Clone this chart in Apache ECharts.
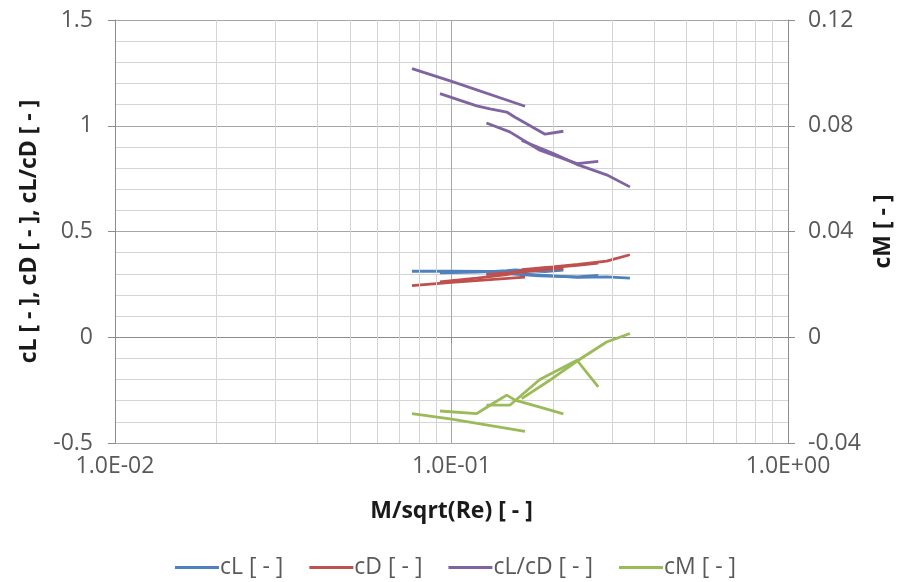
<!DOCTYPE html>
<html>
<head>
<meta charset="utf-8">
<script src="https://cdn.jsdelivr.net/npm/echarts@6/dist/echarts.min.js"></script>
<style>
html,body{margin:0;padding:0;background:#fff;}
#c{width:911px;height:582px;}
</style>
</head>
<body>
<div id="c"></div>
<script>
// Series names
const seriesNames = ['cL [ - ]', 'cD [ - ]', 'cL/cD [ - ]', 'cM [ - ]'];
const seriesColors = ['#4F81BD', '#C0504D', '#8064A2', '#9BBB59'];

// Run 1
const run1X    = [0.0763, 0.1001, 0.1654];
const run1CL   = [0.312, 0.313, 0.310];
const run1CD   = [0.244, 0.259, 0.284];
const run1CLCD = [1.270, 1.210, 1.092];
const run1CM   = [-0.0289, -0.0310, -0.0356];

// Run 2
const run2X    = [0.0924, 0.1188, 0.1301, 0.1459, 0.1545, 0.1897, 0.215];
const run2CL   = [0.305, 0.308, 0.310, 0.315, 0.318, 0.310, 0.317];
const run2CD   = [0.262, 0.280, 0.287, 0.296, 0.305, 0.320, 0.325];
const run2CLCD = [1.152, 1.094, 1.080, 1.065, 1.040, 0.960, 0.974];
const run2CM   = [-0.0279, -0.0289, -0.0257, -0.0219, -0.0238, -0.0270, -0.0290];

// Run 3
const run3X    = [0.127, 0.149, 0.183, 0.236, 0.273];
const run3CL   = [0.300, 0.300, 0.290, 0.285, 0.292];
const run3CD   = [0.296, 0.305, 0.325, 0.340, 0.350];
const run3CLCD = [1.013, 0.971, 0.884, 0.821, 0.832];
const run3CM   = [-0.0257, -0.0257, -0.0160, -0.0087, -0.0188];

// Run 4
const run4X    = [0.1617, 0.200, 0.238, 0.289, 0.339];
const run4CL   = [0.300, 0.290, 0.283, 0.285, 0.280];
const run4CD   = [0.320, 0.333, 0.345, 0.360, 0.390];
const run4CLCD = [0.930, 0.870, 0.815, 0.768, 0.711];
const run4CM   = [-0.0232, -0.0155, -0.0087, -0.0018, 0.0014];

// Axis tick labels
const leftTicks  = ['-0.5', '0', '0.5', '1', '1.5'];
const rightTicks = ['-0.04', '0', '0.04', '0.08', '0.12'];
const xTickValues = [0.01, 0.1, 1];
const xTickLabels = ['1.0E-02', '1.0E-01', '1.0E+00'];
const xMinorGrid = [0.02,0.03,0.04,0.05,0.06,0.07,0.08,0.09,0.2,0.3,0.4,0.5,0.6,0.7,0.8,0.9];

const runs = [
  {x: run1X, v: [run1CL, run1CD, run1CLCD, run1CM]},
  {x: run2X, v: [run2CL, run2CD, run2CLCD, run2CM]},
  {x: run3X, v: [run3CL, run3CD, run3CLCD, run3CM]},
  {x: run4X, v: [run4CL, run4CD, run4CLCD, run4CM]}
];

const series = [];
for (let s = 0; s < 4; s++) {
  runs.forEach(function (r) {
    series.push({
      name: seriesNames[s],
      type: 'line',
      yAxisIndex: s === 3 ? 1 : 0,
      showSymbol: false,
      symbol: 'none',
      data: r.x.map(function (xv, i) { return [xv, r.v[s][i]]; }),
      lineStyle: {color: seriesColors[s], width: 2.8},
      itemStyle: {color: seriesColors[s]},
      z: 3 + s,
      silent: true
    });
  });
}
series.push({
  type: 'line',
  data: [],
  silent: true,
  markLine: {
    silent: true,
    symbol: 'none',
    label: {show: false},
    lineStyle: {color: '#d4d4d4', width: 1, type: 'solid'},
    data: xMinorGrid.map(function (v) { return {xAxis: v}; })
  },
  z: 1
});

const labelFont = {color: '#595959', fontSize: 23, fontFamily: 'Open Sans'};
const titleFont = {color: '#1a1a1a', fontSize: 23, fontWeight: 'bold', fontFamily: 'Open Sans'};

const chart = echarts.init(document.getElementById('c'), null, {renderer: 'canvas'});
chart.setOption({
  animation: false,
  backgroundColor: '#ffffff',
  grid: {left: 115, right: 123, top: 20, bottom: 139, containLabel: false},
  legend: {
    data: seriesNames,
    bottom: -2,
    left: 'center',
    icon: 'rect',
    itemWidth: 44,
    itemHeight: 3,
    itemGap: 26,
    textStyle: {color: '#595959', fontSize: 23, fontFamily: 'Open Sans', padding: [0, 0, 0, -4]}
  },
  xAxis: {
    type: 'log',
    logBase: 10,
    min: 0.01,
    max: 1,
    name: 'M/sqrt(Re) [ - ]',
    nameLocation: 'middle',
    nameGap: 57,
    nameTextStyle: titleFont,
    axisLine: {show: true, lineStyle: {color: '#8c8c8c', width: 1}},
    axisTick: {show: true, length: 6, lineStyle: {color: '#8c8c8c'}},
    axisLabel: Object.assign({margin: 12, formatter: function (v) {
      for (let i = 0; i < xTickValues.length; i++) {
        if (Math.abs(Math.log10(v) - Math.log10(xTickValues[i])) < 1e-6) return xTickLabels[i];
      }
      return '';
    }}, labelFont),
    splitLine: {show: true, lineStyle: {color: '#a6a6a6', width: 1}}
  },
  yAxis: [
    {
      type: 'value',
      min: -0.5,
      max: 1.5,
      interval: 0.5,
      name: 'cL [ - ], cD [ - ], cL/cD [ - ]',
      nameLocation: 'middle',
      nameRotate: 90,
      nameGap: 74,
      nameTextStyle: titleFont,
      axisLine: {show: true, lineStyle: {color: '#8c8c8c', width: 1}},
      axisTick: {show: true, length: 7, lineStyle: {color: '#8c8c8c'}},
      axisLabel: Object.assign({margin: 22, formatter: function (v) {
        const i = Math.round((v + 0.5) / 0.5);
        return leftTicks[i];
      }}, labelFont),
      splitLine: {show: true, lineStyle: {color: '#a6a6a6', width: 1}},
      minorTick: {show: false, splitNumber: 5},
      minorSplitLine: {show: true, lineStyle: {color: '#d4d4d4', width: 1}}
    },
    {
      type: 'value',
      min: -0.04,
      max: 0.12,
      interval: 0.04,
      position: 'right',
      name: 'cM [ - ]',
      nameLocation: 'middle',
      nameRotate: 90,
      nameGap: 77,
      nameTextStyle: titleFont,
      axisLine: {show: true, lineStyle: {color: '#8c8c8c', width: 1}},
      axisTick: {show: true, length: 7, lineStyle: {color: '#8c8c8c'}},
      axisLabel: Object.assign({margin: 20, formatter: function (v) {
        const i = Math.round((v + 0.04) / 0.04);
        return rightTicks[i];
      }}, labelFont),
      splitLine: {show: false}
    }
  ],
  series: series
});
</script>
</body>
</html>
